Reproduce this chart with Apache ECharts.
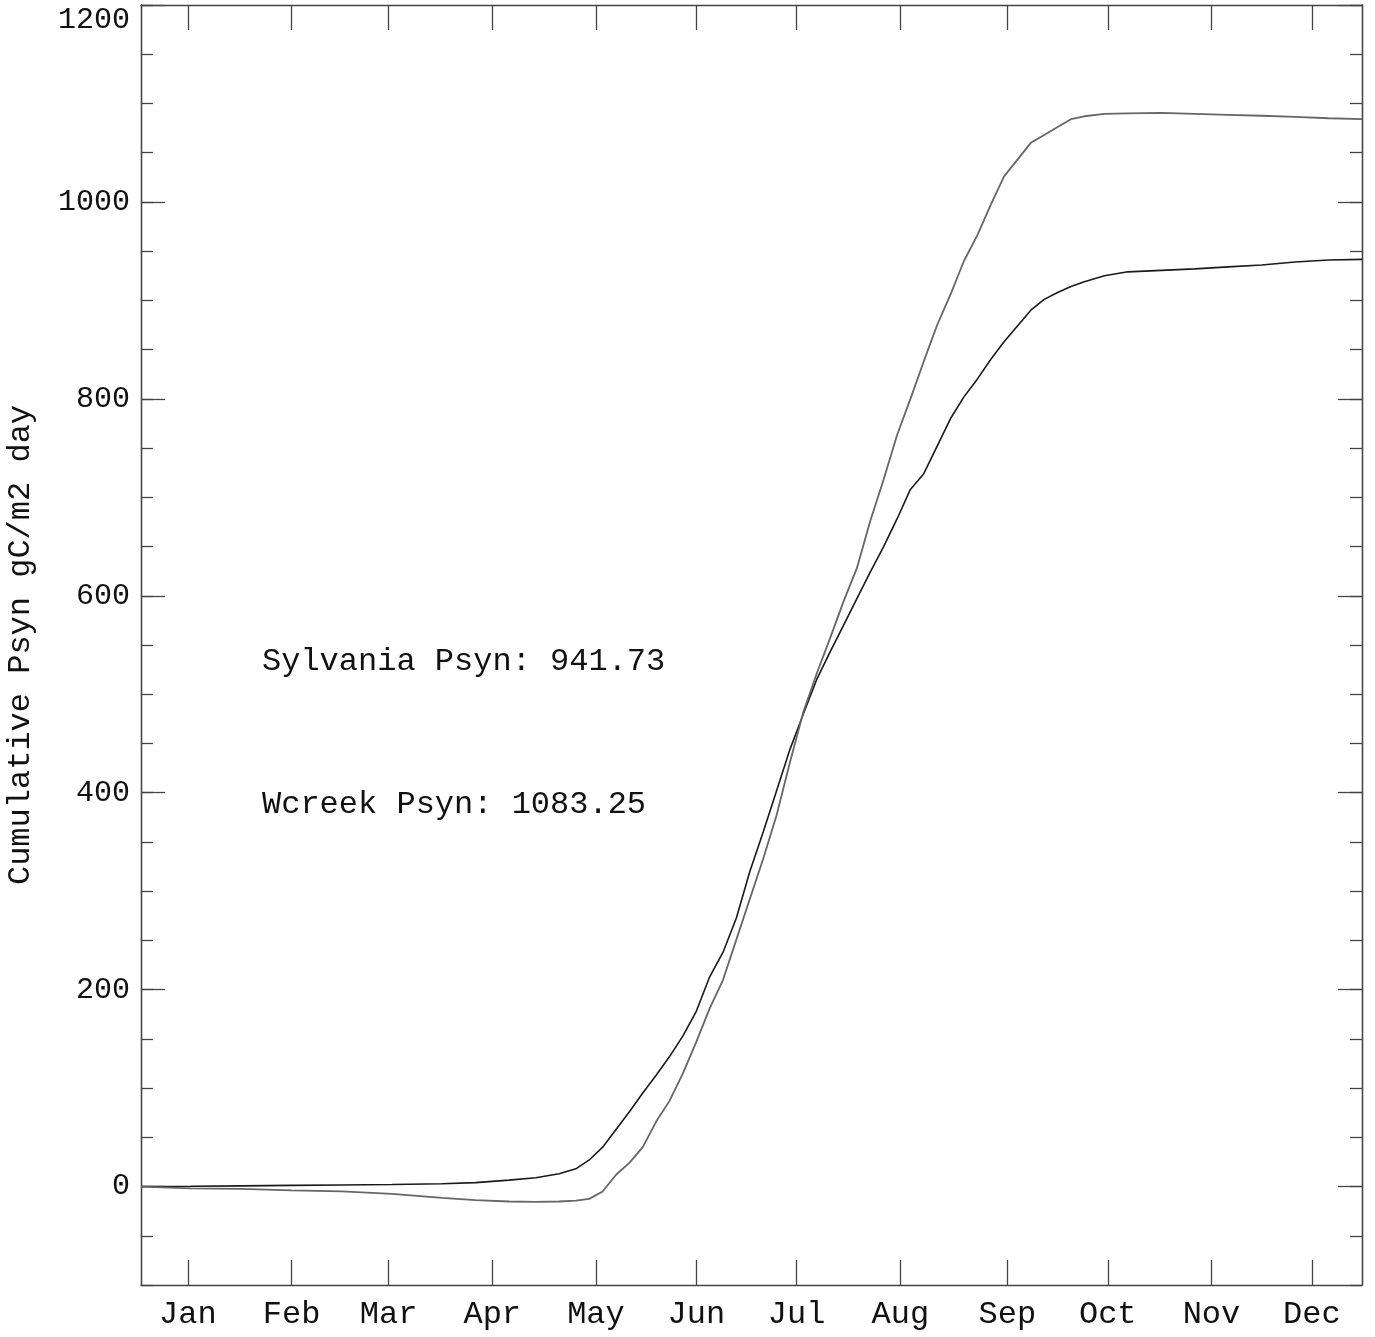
<!DOCTYPE html>
<html>
<head>
<meta charset="utf-8">
<script src="https://cdn.jsdelivr.net/npm/echarts@6/dist/echarts.min.js"></script>
<style>
html,body{margin:0;padding:0;background:#fff;}
#chart{width:1375px;height:1337px;}
</style>
</head>
<body>
<div id="chart"></div>
<script>
// ---- data ----
const days = [0,15,30,45,60,75,90,100,110,118,125,130,134,138,142,146,150,154,158,162,166,170,174,178,182,186,190,194,198,202,206,210,214,218,222,226,230,234,238,242,246,250,254,258,262,266,270,274,278,282,288,295,305,315,325,335,345,355,365];
const sylvania = [0,0.3,0.7,1.2,1.6,2.0,2.8,4.0,6.5,9,13,18,27,40,58,76,95,113,132,153,178,213,238,273,320,360,402,444,480,515,543,570,597,624,650,678,708,724,752,780,802,820,840,858,874,890,901,908,914,919,925,929,930.5,932,934,936,939,941,941.7];
const wcreek = [0,-1.8,-2.3,-3.8,-5,-7.5,-11.5,-13.8,-15.2,-15.6,-15.2,-14.3,-12.5,-5,12,24,40,66,87,115,147,181,210,251,292,333,377,431,482,521,557,594,628,676,718,763,800,838,875,906,940,966,997,1026,1043,1060,1068,1076,1084,1087,1089.5,1090,1090.5,1089.5,1088.5,1087.5,1086.3,1085,1084];
const monthLabels = ['Jan','Feb','Mar','Apr','May','Jun','Jul','Aug','Sep','Oct','Nov','Dec'];
const monthTicks = [14,45,74,105,136,166,196,227,259,289,320,350];
const yMajorTicks = [0,200,400,600,800,1000,1200];
const yTitle = 'Cumulative Psyn gC/m2 day';
const notes = ['Sylvania Psyn: 941.73','Wcreek Psyn: 1083.25'];

const FONT = '"Liberation Mono", "DejaVu Sans Mono", monospace';
const AXC = '#444';

const chart = echarts.init(document.getElementById('chart'), null, {renderer:'canvas'});

function xAx(pos, showLabel){
  return {
    type:'value', min:0, max:365, position:pos,
    axisLine:{show:true, onZero:false, lineStyle:{color:AXC, width:1.3}},
    axisTick:{show:true, inside:true, length:25, customValues:monthTicks, lineStyle:{color:AXC, width:1.3}},
    axisLabel:{show:showLabel, customValues:monthTicks, margin:14, color:'#111', fontFamily:FONT, fontSize:32,
      formatter:function(v){ const i = monthTicks.indexOf(v); return i>=0 ? monthLabels[i] : ''; }},
    splitLine:{show:false}
  };
}
function yAx(pos, major, showLabel, name){
  const a = {
    type:'value', min:-100, max:1200, position:pos,
    axisLine:{show:true, onZero:false, lineStyle:{color:AXC, width:1.3}},
    axisTick:{show:true, inside:true, length: major?24:12, lineStyle:{color:AXC, width:1.3}},
    axisLabel:{show:showLabel, margin:11, color:'#111', fontFamily:FONT, fontSize:30,
      verticalAlignMaxLabel:'top',
      formatter:function(v){ return String(v); }},
    splitLine:{show:false}
  };
  if (major){
    a.axisTick.customValues = yMajorTicks;
    a.axisLabel.customValues = yMajorTicks;
  } else {
    a.interval = 50;
  }
  if (name){
    a.name = name; a.nameLocation = 'middle'; a.nameGap = 104;
    a.nameTextStyle = {fontFamily:FONT, fontSize:32, color:'#111'};
  }
  return a;
}

chart.setOption({
  animation:false,
  backgroundColor:'#fff',
  grid:{left:141, right:13, top:5, bottom:52, containLabel:false, outerBoundsMode:'none'},
  xAxis:[xAx('bottom', true), xAx('top', false)],
  yAxis:[yAx('left', true, true, yTitle), yAx('left', false, false), yAx('right', true, false), yAx('right', false, false)],
  series:[
    {name:'Sylvania', type:'line', xAxisIndex:0, yAxisIndex:0, showSymbol:false, smooth:false,
      data: days.map((d,i)=>[d, sylvania[i]]), lineStyle:{color:'#1a1a1a', width:1.6}},
    {name:'Wcreek', type:'line', xAxisIndex:0, yAxisIndex:0, showSymbol:false, smooth:false,
      data: days.map((d,i)=>[d, wcreek[i]]), lineStyle:{color:'#666', width:1.8}}
  ],
  graphic:[
    {type:'text', left:262, top:646, style:{text:notes[0], font:'32px '+FONT, fill:'#111'}},
    {type:'text', left:262, top:789, style:{text:notes[1], font:'32px '+FONT, fill:'#111'}}
  ]
});
</script>
</body>
</html>
